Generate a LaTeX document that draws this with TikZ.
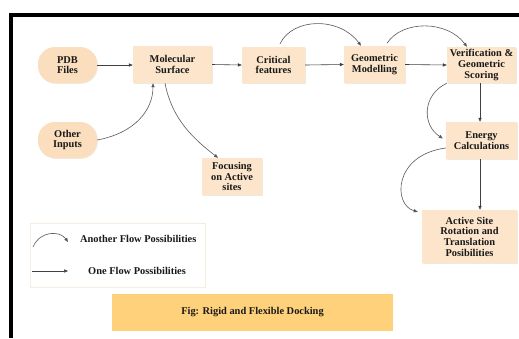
\documentclass[tikz,border=0pt]{standalone}
\usepackage{fontspec}
\setmainfont{Liberation Serif}
\newfontfamily\tnrfont{Liberation Serif}
\usetikzlibrary{arrows.meta,shadows}
\definecolor{peach}{RGB}{252,229,203}
\definecolor{peachd}{RGB}{250,222,190}
\definecolor{gold}{RGB}{255,209,122}
\begin{document}
\begin{tikzpicture}[x=1pt,y=1pt,
  lbl/.style={font=\tnrfont\bfseries\fontsize{10.4}{10.7}\selectfont, text=black!90},
  sh/.style={drop shadow={shadow xshift=0.8pt,shadow yshift=-0.8pt,opacity=0.35,fill=brown!50}},
  box/.style={lbl, sh, fill=peach, align=center, inner sep=1pt, anchor=center},
  pill/.style={box, fill=peachd, rounded corners=17pt},
  flow/.style={-{Triangle[length=4pt,width=3.2pt]}, draw=black!75, line width=0.6pt},
  curvy/.style={flow, draw=black!65}]
\useasboundingbox (0,0) rectangle (519,-338);
\fill[white] (0,0) rectangle (519,-338);
\draw[line width=3.5pt] (11,-338) -- (11,-15) -- (519,-15);

\node[pill, minimum width=59, minimum height=36] (pdb) at (67.5,-65) {PDB\\Files};
\node[pill, minimum width=59, minimum height=36] (other) at (67.5,-140) {Other\\Inputs};
\node[box, minimum width=79, minimum height=37] (mol) at (172.5,-64.5) {Molecular\\Surface};
\node[box, minimum width=63, minimum height=36] (crit) at (273.5,-65) {Critical\\features};
\node[box, minimum width=61, minimum height=37] (geo) at (374.5,-64.5) {Geometric\\Modelling};
\node[box, minimum width=69, minimum height=36] (ver) at (481.5,-65) {Verification \&\\Geometric\\Scoring};
\node[box, minimum width=71, minimum height=37] (energy) at (481.5,-140.5) {Energy\\Calculations};
\node[box, minimum width=95, minimum height=53] (active) at (469.5,-236.5) {Active Site\\Rotation and\\Translation\\Posibilities};
\node[box, minimum width=60, minimum height=37] (focus) at (232,-176.5) {Focusing\\on Active\\sites};

\node[sh, fill=white, draw=brown!15, minimum width=175, minimum height=64, inner sep=0pt] (legend) at (117.5,-255) {};
\coordinate (la1) at (33,-247);
\coordinate (la2) at (68,-242);
\draw[curvy] (la1) .. controls (40,-230.5) and (60,-230.5) .. (la2);
\node[lbl, anchor=west, inner sep=0pt] (lt1) at (80,-239) {Another Flow Possibilities};
\coordinate (lb1) at (32,-271);
\coordinate (lb2) at (68,-271);
\draw[flow] (lb1) -- (lb2);
\node[lbl, anchor=west, inner sep=0pt] (lt2) at (88,-271) {One Flow Possibilities};

\node[lbl, fill=gold, minimum width=281, minimum height=37] (fig) at (252.5,-312.5) {Fig: Rigid and Flexible Docking};

\draw[flow] (pdb.east) -- (pdb.east -| mol.west);
\draw[flow] (mol.east) -- (crit.west);
\draw[flow] (crit.east) -- (geo.west);
\draw[flow] (geo.east) -- (ver.west);
\draw[flow] ([xshift=-1.5pt]ver.south) -- ([xshift=-1.5pt]energy.north);
\draw[flow] ([xshift=-1.5pt]energy.south) -- ([xshift=-1.5pt]energy.south |- active.north);

\draw[curvy] (other.east) .. controls (135,-133) and (153,-110) .. ([xshift=-19.5pt]mol.south);
\draw[curvy] ([xshift=-7.5pt]mol.south) .. controls (172,-120) and (195,-140) .. ([xshift=-14pt]focus.north);
\draw[curvy] ([xshift=6.5pt,yshift=3pt]crit.north) .. controls (293,-17) and (340,-17) .. ([xshift=-13.5pt]geo.north);
\draw[curvy] ([xshift=12.5pt,yshift=2.5pt]geo.north) .. controls (402,-20) and (447,-20) .. ([xshift=-14.5pt]ver.north);
\draw[curvy] (ver.south west) .. controls (422,-95) and (422,-125) .. ([xshift=-3pt,yshift=2pt]energy.west);
\draw[curvy] ([yshift=-7.5pt]energy.west) .. controls (393,-155) and (393,-205) .. ([xshift=-4pt,yshift=-2pt]active.north west);
\end{tikzpicture}
\end{document}
